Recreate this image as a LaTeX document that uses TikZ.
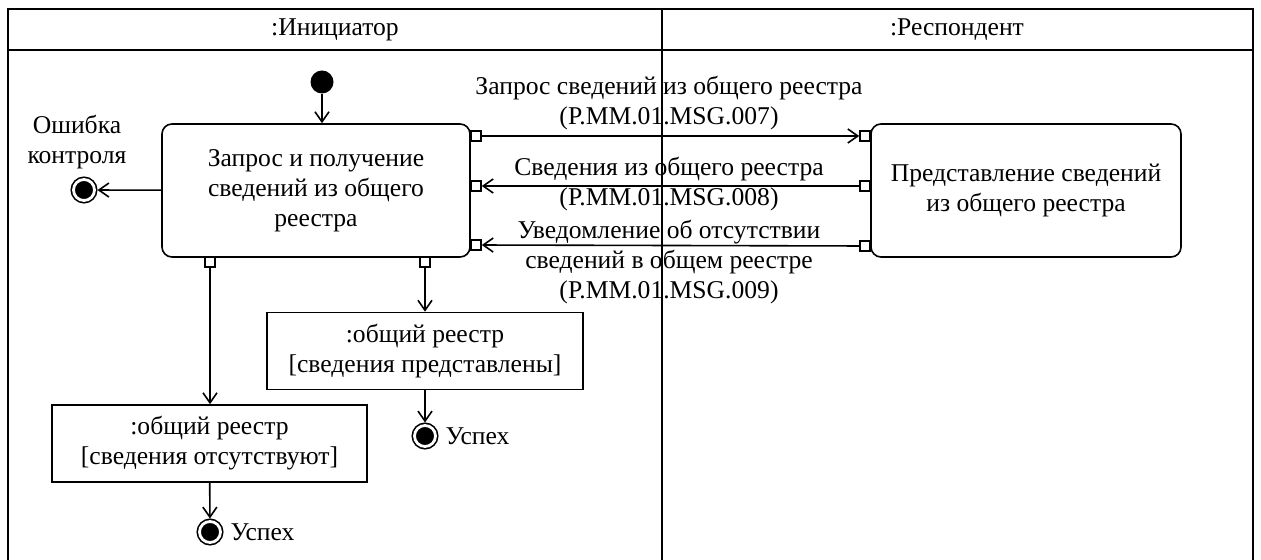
\documentclass[tikz,border=0pt]{standalone}
\usepackage{fontspec}
\setmainfont{Liberation Serif}
\usepackage{tikz}
\usetikzlibrary{arrows.meta,positioning}
\tikzstyle{action} = [rectangle, rounded corners=5pt, draw, thick, minimum width=154pt, minimum height=66.5pt, align=center]
\tikzstyle{object} = [rectangle, draw, thick, minimum width=158pt, minimum height=38.5pt, align=center]
\tikzstyle{portbox} = [rectangle, draw, thick, fill=white, minimum size=5pt, inner sep=0pt]
\tikzstyle{initnode} = [circle, fill=black, minimum size=11.5pt, inner sep=0pt]
\tikzstyle{finalnode} = [circle, draw, thick, double=white, double distance=1.4pt, fill=black, minimum size=10.5pt, inner sep=0pt, outer sep=1.5pt]
\tikzstyle{msg} = [align=center]
\tikzstyle{arrow} = [thick,->,>={Straight Barb[length=5pt,width=7pt]}]

\begin{document}
\begin{tikzpicture}[x=0.5pt,y=-0.5pt,font=\fontsize{12.8}{15}\selectfont]
\useasboundingbox (0,0) rectangle (1261,560);
% Swimlanes
\draw[thick] (8,560) -- (8,9) -- (1253,9) -- (1253,560);
\draw[thick] (8,50) -- (1253,50);
\draw[thick] (662,9) -- (662,560);
\node (lane1) at (335,30) {:Инициатор};
\node (lane2) at (957,30) {:Респондент};

% Actions and objects
\node (init) [initnode] at (322,82) {};
\node (req) [action] at (316,190.5) {Запрос и получение\\сведений из общего\\реестра};
\node (resp) [action, minimum width=155pt] at (1026,190.5) {Представление сведений\\из общего реестра};
\node (present) [object] at (425,351) {:общий реестр\\{}[сведения представлены]};
\node (absent) [object, minimum width=157.5pt] at (209.5,443.5) {:общий реестр\\{}[сведения отсутствуют]};

% Pins
\node (p1) [portbox] at (476,136) {};
\node (p2) [portbox] at (476,186) {};
\node (p3) [portbox] at (476,245) {};
\node (p4) [portbox] at (210,262) {};
\node (p5) [portbox] at (425,262) {};
\node (q1) [portbox] at (865,136) {};
\node (q2) [portbox] at (865,186) {};
\node (q3) [portbox] at (865,246) {};

% Final nodes
\node (err) [finalnode] at (84,190) {};
\node (errtxt) [msg] at (77,142) {Ошибка\\контроля};
\node (ok1) [finalnode] at (210,532) {};
\node (ok1txt) [right=0pt of ok1] {Успех};
\node (ok2) [finalnode] at (425,436) {};
\node (ok2txt) [right=0pt of ok2] {Успех};

% Messages
\node (m1) [msg] at (669,103) {Запрос сведений из общего реестра\\(P.MM.01.MSG.007)};
\node (m2) [msg] at (669,184.5) {Сведения из общего реестра\\(P.MM.01.MSG.008)};
\node (m3) [msg] at (669,262.5) {Уведомление об отсутствии\\сведений в общем реестре\\(P.MM.01.MSG.009)};

% Arrows
\draw[arrow] (init) -- (init |- req.north);
\draw[arrow] (req) -- (err);
\draw[arrow] (p1) -- (q1);
\draw[arrow] (q2) -- (p2);
\draw[arrow] (q3) -- (p3);
\draw[arrow] (p4) -- (p4 |- absent.north);
\draw[arrow] (p5) -- (present);
\draw[arrow] (absent) -- (ok1);
\draw[arrow] (present) -- (ok2);
\end{tikzpicture}
\end{document}
